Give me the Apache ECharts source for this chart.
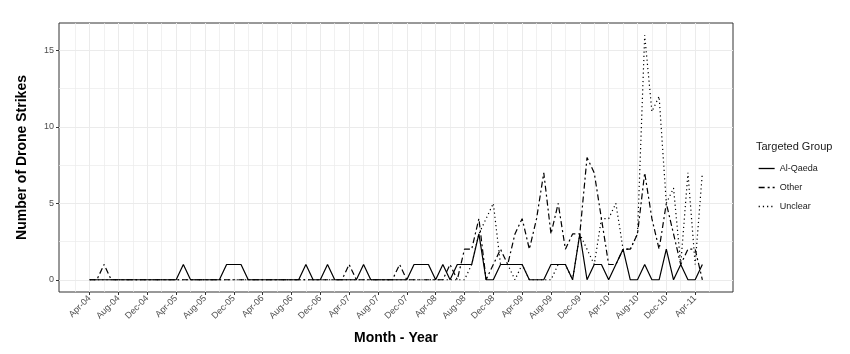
<!DOCTYPE html>
<html>
<head>
<meta charset="utf-8">
<script src="https://cdn.jsdelivr.net/npm/echarts@6/dist/echarts.min.js"></script>
<style>
html, body { margin: 0; padding: 0; background: #fff; }
#chart { width: 850px; height: 354px; }
</style>
</head>
<body>
<div id="chart"></div>
<script>
// months counted from Apr-04 (0) to May-11 (85)
const tickLabels = ["Apr-04", "Aug-04", "Dec-04", "Apr-05", "Aug-05", "Dec-05", "Apr-06", "Aug-06",
  "Dec-06", "Apr-07", "Aug-07", "Dec-07", "Apr-08", "Aug-08", "Dec-08", "Apr-09", "Aug-09",
  "Dec-09", "Apr-10", "Aug-10", "Dec-10", "Apr-11"];
const tickMonths = tickLabels.map((d, i) => i * 4);
const minorMonths = [-2].concat(tickMonths.map(m => m + 2));
const yTicks = [0, 5, 10, 15];
const yMinor = [2.5, 7.5, 12.5];

const alQaeda = [
  0, 0, 0, 0, 0, 0, 0, 0, 0, 0,
  0, 0, 0, 1, 0, 0, 0, 0, 0, 1,
  1, 1, 0, 0, 0, 0, 0, 0, 0, 0,
  1, 0, 0, 1, 0, 0, 0, 0, 1, 0,
  0, 0, 0, 0, 0, 1, 1, 1, 0, 1,
  0, 1, 1, 1, 3, 0, 0, 1, 1, 1,
  1, 0, 0, 0, 1, 1, 1, 0, 3, 0,
  1, 1, 0, 1, 2, 0, 0, 1, 0, 0,
  2, 0, 1, 0, 0, 1
];
const other = [
  0, 0, 1, 0, 0, 0, 0, 0, 0, 0,
  0, 0, 0, 0, 0, 0, 0, 0, 0, 0,
  0, 0, 0, 0, 0, 0, 0, 0, 0, 0,
  0, 0, 0, 0, 0, 0, 1, 0, 0, 0,
  0, 0, 0, 1, 0, 0, 0, 0, 0, 0,
  1, 0, 2, 2, 4, 0, 1, 2, 1, 3,
  4, 2, 4, 7, 3, 5, 2, 3, 3, 8,
  7, 4, 1, 1, 2, 2, 3, 7, 4, 2,
  5, 3, 1, 2, 2, 0
];
const unclear = [
  0, 0, 0, 0, 0, 0, 0, 0, 0, 0,
  0, 0, 0, 0, 0, 0, 0, 0, 0, 0,
  0, 0, 0, 0, 0, 0, 0, 0, 0, 0,
  0, 0, 0, 0, 0, 0, 0, 0, 0, 0,
  0, 0, 0, 0, 0, 0, 0, 0, 0, 0,
  0, 0, 0, 1, 3, 4, 5, 1, 1, 0,
  1, 0, 0, 0, 0, 1, 1, 0, 3, 2,
  1, 4, 4, 5, 2, 2, 3, 16, 11, 12,
  5, 6, 1, 7, 1, 7
];

const font = "'Liberation Sans', Arial, sans-serif";
const gridColor = "#ebebeb";

let myChart = echarts.init(document.getElementById("chart"), null, { renderer: "canvas" });

function lineSeries(name, values, dash) {
  return {
    name: name,
    type: "line",
    xAxisIndex: 0,
    yAxisIndex: 0,
    symbol: "none",
    animation: false,
    data: values.map((v, i) => [i, v]),
    lineStyle: { color: "#000", width: 1.2, type: dash },
    itemStyle: { color: "#000" },
  };
}

let option = {
  backgroundColor: "#fff",
  title: {
    text: "Targeted Group",
    left: 751,
    top: 136,
    textStyle: { fontFamily: font, fontSize: 11, fontWeight: "normal", color: "#1a1a1a" },
  },
  legend: {
    orient: "vertical",
    left: 753,
    top: 159,
    itemWidth: 16,
    itemHeight: 8,
    itemGap: 10,
    lineStyle: { width: 1.3 },
    itemStyle: { color: "transparent", borderColor: "transparent", borderWidth: 0, opacity: 0 },
    textStyle: { fontFamily: font, fontSize: 9, color: "#1a1a1a" },
    data: ["Al-Qaeda", "Other", "Unclear"],
  },
  grid: {
    left: 59,
    right: 117,
    top: 23,
    bottom: 62,
    show: true,
    borderColor: "#333",
    borderWidth: 1,
    containLabel: false,
  },
  xAxis: [
    {
      type: "value",
      min: -4.25,
      max: 89.25,
      name: "Month - Year",
      nameLocation: "middle",
      nameGap: 39,
      nameTextStyle: { fontFamily: font, fontSize: 14, fontWeight: "bold", color: "#000" },
      axisLine: { show: false, onZero: false },
      axisTick: { show: true, length: 3, customValues: tickMonths, lineStyle: { color: "#333" } },
      axisLabel: {
        customValues: tickMonths,
        rotate: 45,
        margin: 5,
        fontFamily: font,
        fontSize: 9,
        color: "#4d4d4d",
        formatter: v => tickLabels[Math.round(v / 4)] || "",
      },
      splitLine: { show: true, lineStyle: { color: gridColor, width: 1 } },
    },
    {
      type: "value",
      min: -4.25,
      max: 89.25,
      position: "bottom",
      axisLine: { show: false, onZero: false },
      axisTick: { show: false, customValues: minorMonths },
      axisLabel: { show: false, customValues: minorMonths },
      splitLine: { show: true, lineStyle: { color: gridColor, width: 0.7 } },
    },
  ],
  yAxis: [
    {
      type: "value",
      min: -0.8,
      max: 16.8,
      name: "Number of Drone Strikes",
      nameLocation: "middle",
      nameGap: 30,
      nameTextStyle: { fontFamily: font, fontSize: 14, fontWeight: "bold", color: "#000" },
      axisLine: { show: false, onZero: false },
      axisTick: { show: true, length: 3, customValues: yTicks, lineStyle: { color: "#333" } },
      axisLabel: {
        customValues: yTicks,
        margin: 5,
        fontFamily: font,
        fontSize: 9,
        color: "#4d4d4d",
      },
      splitLine: { show: true, lineStyle: { color: gridColor, width: 1 } },
    },
    {
      type: "value",
      min: -0.8,
      max: 16.8,
      position: "left",
      axisLine: { show: false, onZero: false },
      axisTick: { show: false, customValues: yMinor },
      axisLabel: { show: false, customValues: yMinor },
      splitLine: { show: true, lineStyle: { color: gridColor, width: 0.7 } },
    },
  ],
  series: [
    lineSeries("Al-Qaeda", alQaeda, "solid"),
    lineSeries("Other", other, [6, 3, 2, 3]),
    lineSeries("Unclear", unclear, [1.2, 3]),
  ],
};
myChart.setOption(option);
</script>
</body>
</html>
